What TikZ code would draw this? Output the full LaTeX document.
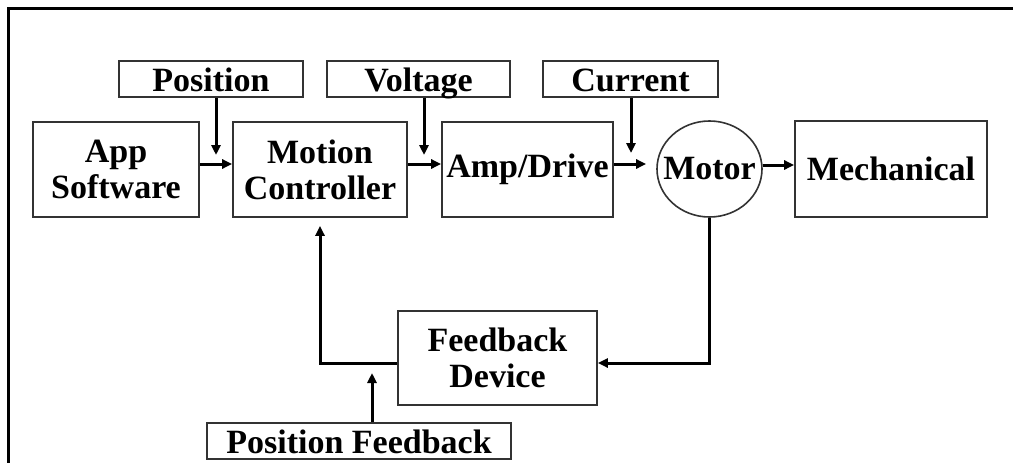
\documentclass[tikz,border=0pt]{standalone}
\usepackage{fontspec}
\setmainfont{Liberation Serif}
\usetikzlibrary{arrows.meta,shapes.geometric}
\tikzset{
  blk/.style={draw=black!80, line width=1.6pt, rectangle, inner sep=0pt, align=center,
    font=\fontsize{34}{36}\selectfont\bfseries},
  lbl/.style={blk, minimum height=36pt, text height=25pt, text depth=1pt},
  arr/.style={line width=3pt, -{Triangle[length=10pt,width=9pt]}},
  frame/.style={line width=3.5pt}
}
\begin{document}
\begin{tikzpicture}[x=1pt,y=-1pt]
\useasboundingbox (0,0) rectangle (1013,463);
\draw[frame] (8.5,463) -- (8.5,8.5) -- (1013,8.5);

\node[blk, minimum width=166pt, minimum height=95pt] (app) at (116,169.5) {App\\Software};
\node[blk, minimum width=174pt, minimum height=95pt] (mc) at (320,169.5) {Motion\\Controller};
\node[blk, minimum width=171pt, minimum height=95pt] (amp) at (527.5,169.5) {Amp/Drive};
\node[blk, ellipse, inner xsep=-30pt, minimum width=105pt, minimum height=96pt] (motor) at (709.5,169) {Motor};
\node[blk, minimum width=192pt, minimum height=96pt] (mech) at (891,169) {Mechanical};

\node[lbl, minimum width=184pt] (pos) at (211,79) {Position};
\node[lbl, minimum width=183pt] (volt) at (418.5,79) {Voltage};
\node[lbl, minimum width=175pt] (cur) at (630.5,79) {Current};

\node[blk, minimum width=199pt, minimum height=94pt] (fb) at (497.5,358) {Feedback\\Device};
\node[lbl, minimum width=304pt] (pfb) at (359,441) {Position Feedback};

\coordinate (row) at (0,164);
\coordinate (row2) at (0,165);
\coordinate (fbrow) at (0,363);
\coordinate (pin) at (216,155);
\coordinate (vin) at (424,155);
\coordinate (cin) at (631,153);
\coordinate (pfin) at (372,373);

\draw[arr] (pin |- pos.south) -- (pin);
\draw[arr] (vin |- volt.south) -- (vin);
\draw[arr] (cin |- cur.south) -- (cin);
\draw[arr] (pfin |- pfb.north) -- (pfin);

\draw[arr] (app.east |- row) -- (mc.west |- row);
\draw[arr] (mc.east |- row) -- (amp.west |- row);
\draw[arr, shorten >=10pt] (amp.east |- row) -- (motor.west |- row);
\draw[arr] (motor.east |- row2) -- (mech.west |- row2);

\draw[arr] (motor.south) -- (motor.south |- fbrow) -- (fb.east |- fbrow);
\draw[arr, shorten >=8pt] (fb.west |- fbrow) -| (mc.south);
\end{tikzpicture}
\end{document}
